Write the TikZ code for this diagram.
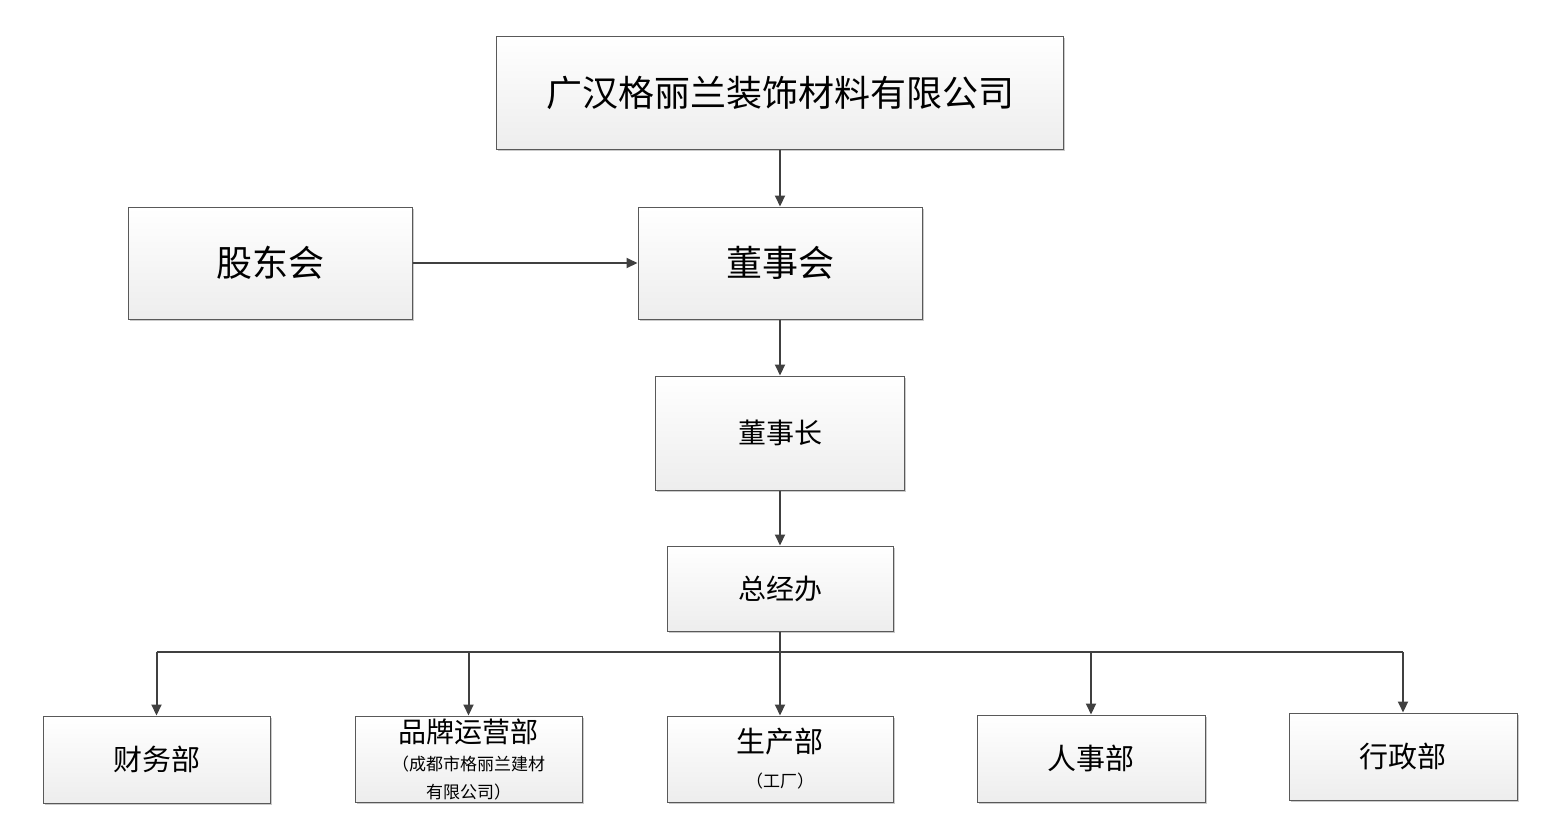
\documentclass[tikz,border=0pt]{standalone}
\usepackage{fontspec}
\setmainfont{Noto Sans CJK SC}
\usetikzlibrary{arrows.meta,shadows}
\begin{document}
\begin{tikzpicture}[x=1pt,y=-1pt,
  box/.style={draw=black!65,line width=1pt,top color=white,bottom color=black!7,
    drop shadow={shadow xshift=1.6pt,shadow yshift=-1.6pt,fill=black!35,opacity=0.6},
    inner sep=0pt,align=center},
  conn/.style={draw=black!75,line width=2pt,-{Triangle[length=11pt,width=10pt]}},
  bus/.style={draw=black!75,line width=2pt}]
\useasboundingbox (0,0) rectangle (1552,823);
\node[box,minimum width=567pt,minimum height=113pt,font=\fontsize{36}{40}\selectfont] (co) at (780,92.5) {广汉格丽兰装饰材料有限公司};
\node[box,minimum width=284pt,minimum height=112pt,font=\fontsize{36}{40}\selectfont] (gdh) at (270,263) {股东会};
\node[box,minimum width=284pt,minimum height=112pt,font=\fontsize{36}{40}\selectfont] (dsh) at (780,263) {董事会};
\node[box,minimum width=249pt,minimum height=114pt,font=\fontsize{28}{32}\selectfont] (dsz) at (780,433) {董事长};
\node[box,minimum width=226pt,minimum height=85pt,font=\fontsize{28}{32}\selectfont] (zjb) at (780,588.5) {总经办};
\node[box,minimum width=227pt,minimum height=87pt,font=\fontsize{29}{32}\selectfont] (cw) at (156.5,759.5) {财务部};
\node[box,minimum width=227pt,minimum height=86pt,font=\fontsize{17}{28}\selectfont] (pp) at (468.5,759) {{\fontsize{28}{28}\selectfont 品牌运营部}\\（成都市格丽兰建材\\有限公司）};
\node[box,minimum width=226pt,minimum height=86pt,font=\fontsize{17}{35}\selectfont] (sc) at (780,759) {{\fontsize{29}{35}\selectfont 生产部}\\（工厂）};
\node[box,minimum width=228pt,minimum height=87pt,font=\fontsize{29}{32}\selectfont] (rs) at (1091,758.5) {人事部};
\node[box,minimum width=228pt,minimum height=87pt,font=\fontsize{29}{32}\selectfont] (xz) at (1403,756.5) {行政部};
\draw[conn] (co.south) -- (dsh.north);
\draw[conn] (gdh.east) -- (dsh.west);
\draw[conn] (dsh.south) -- (dsz.north);
\draw[conn] (dsz.south) -- (zjb.north);
\coordinate (b) at (780,652);
\draw[bus] (zjb.south) -- (b);
\draw[bus] (cw.north |- b) -- (xz.north |- b);
\draw[conn] (cw.north |- b) -- (cw.north);
\draw[conn] (pp.north |- b) -- (pp.north);
\draw[conn] (b) -- (sc.north);
\draw[conn] (rs.north |- b) -- (rs.north);
\draw[conn] (xz.north |- b) -- (xz.north);
\end{tikzpicture}
\end{document}
